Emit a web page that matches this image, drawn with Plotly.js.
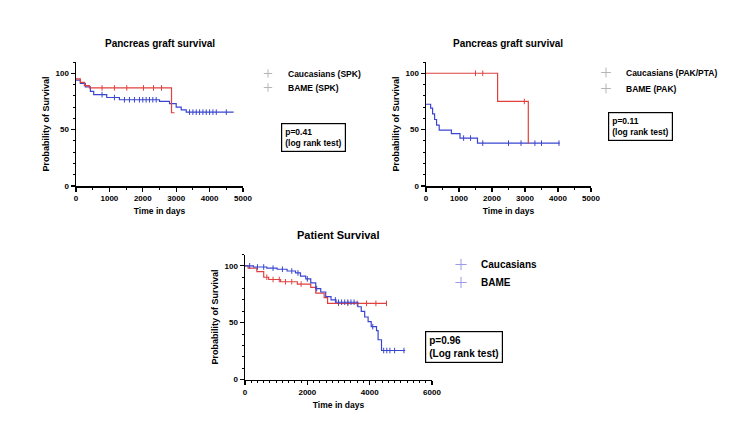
<!DOCTYPE html>
<html>
<head>
<meta charset="utf-8">
<script src="https://cdn.plot.ly/plotly-3.0.1.min.js"></script>
<style>html,body{margin:0;padding:0;background:#fff;}#chart{width:729px;height:422px;}</style>
</head>
<body>
<div id="chart"></div>
<script>
// ---------- data ----------
const titles = ["Pancreas graft survival", "Pancreas graft survival", "Patient Survival"];
const xTitle = "Time in days";
const yTitle = "Probability of Survival";

// Panel 1: SPK pancreas graft survival
const spkCauTime = [0, 130, 280, 430, 530, 920, 1300, 2500, 2800, 3000, 3150, 3300, 4720];
const spkCauSurv = [94, 91, 88, 84, 81, 78.5, 76.5, 75, 73, 70, 67.5, 65.5, 65.5];
const spkCauCens = [780, 1150, 1450, 1600, 1750, 1900, 2000, 2100, 2200, 2300, 2400, 3400, 3500, 3600, 3700, 3800, 3900, 4000, 4100, 4200, 4500];
const spkBameTime = [0, 130, 250, 400, 2860, 2950];
const spkBameSurv = [95, 92, 89, 87, 65, 65];
const spkBameCens = [780, 1150, 1520, 2020, 2320, 2560];
const spkNames = ["Caucasians (SPK)", "BAME (SPK)"];
const spkP = ["p=0.41", "(log rank test)"];

// Panel 2: PAK/PTA pancreas graft survival
const pakCauTime = [0, 140, 200, 260, 320, 400, 770, 1030, 1560, 4050];
const pakCauSurv = [72.5, 69, 64, 59, 54, 49.5, 46.5, 42.5, 38, 38];
const pakCauCens = [1140, 1350, 1720, 2500, 2880, 3300, 3500, 4030];
const pakBameTime = [0, 2170, 3100];
const pakBameSurv = [100, 75, 37.5];
const pakBameCens = [1500, 1720, 2980];
const pakNames = ["Caucasians (PAK/PTA)", "BAME (PAK)"];
const pakP = ["p=0.11", "(log rank test)"];

// Panel 3: patient survival
const patCauTime = [0, 270, 700, 1030, 1350, 1620, 1780, 1950, 2110, 2270, 2430, 2590, 2760, 2920, 3620, 3730, 3840, 3950, 4050, 4220, 4270, 4380, 5140];
const patCauSurv = [100, 99, 98, 97, 95.5, 93.8, 91, 88.5, 85, 80, 77, 73, 70, 68, 64, 60, 55, 51, 46.5, 43, 35, 25.5, 25.5];
const patCauCens = [150, 400, 600, 900, 1200, 1500, 1700, 2000, 2300, 2900, 3000, 3100, 3200, 3300, 3400, 3500, 4100, 4450, 4550, 4650, 4800, 5100];
const patBameTime = [0, 100, 380, 600, 760, 1140, 1680, 2110, 2270, 2540, 2650, 4540];
const patBameSurv = [100, 98, 95, 90, 88, 86, 84, 81, 76, 72, 67, 67];
const patBameCens = [700, 900, 1100, 1300, 1500, 1800, 3000, 3300, 3600, 3900, 4200, 4540];
const patNames = ["Caucasians", "BAME"];
const patP = ["p=0.96", "(Log rank test)"];

// ---------- helpers ----------
const RED = "#e0413f", BLUE = "#3a46cf";
const FONT = "Liberation Sans, Arial, sans-serif";
function stepAt(T, S, t) { let v = S[0]; for (let i = 0; i < T.length; i++) { if (T[i] <= t) v = S[i]; } return v; }
function curve(T, S, color, xa, ya) {
  return { x: T, y: S, type: "scatter", mode: "lines", line: { shape: "hv", color: color, width: 1.2 }, xaxis: xa, yaxis: ya, showlegend: false, hoverinfo: "skip" };
}
function cens(T, S, C, color, xa, ya) {
  return { x: C, y: C.map(t => stepAt(T, S, t)), type: "scatter", mode: "markers", marker: { symbol: "line-ns-open", size: 4, color: color, line: { width: 1, color: color } }, xaxis: xa, yaxis: ya, showlegend: false, hoverinfo: "skip" };
}
function legendEntry(name, color, lg, size) {
  return { x: [null], y: [null], type: "scatter", mode: "markers", name: name, legend: lg,
    marker: { symbol: "cross-thin-open", size: size, color: color, line: { width: 1, color: color } }, xaxis: "x", yaxis: "y" };
}

const traces = [
  curve(spkCauTime, spkCauSurv, BLUE, "x", "y"),
  cens(spkCauTime, spkCauSurv, spkCauCens, BLUE, "x", "y"),
  curve(spkBameTime, spkBameSurv, RED, "x", "y"),
  cens(spkBameTime, spkBameSurv, spkBameCens, RED, "x", "y"),
  curve(pakCauTime, pakCauSurv, BLUE, "x2", "y2"),
  cens(pakCauTime, pakCauSurv, pakCauCens, BLUE, "x2", "y2"),
  curve(pakBameTime, pakBameSurv, RED, "x2", "y2"),
  cens(pakBameTime, pakBameSurv, pakBameCens, RED, "x2", "y2"),
  curve(patBameTime, patBameSurv, RED, "x3", "y3"),
  cens(patBameTime, patBameSurv, patBameCens, RED, "x3", "y3"),
  curve(patCauTime, patCauSurv, BLUE, "x3", "y3"),
  cens(patCauTime, patCauSurv, patCauCens, BLUE, "x3", "y3"),
  legendEntry(spkNames[0], "#b5b5b5", "legend", 6),
  legendEntry(spkNames[1], "#b5b5b5", "legend2", 6),
  legendEntry(pakNames[0], "#b5b5b5", "legend3", 7),
  legendEntry(pakNames[1], "#b5b5b5", "legend4", 7),
  legendEntry(patNames[0], "#9a9ae8", "legend5", 8),
  legendEntry(patNames[1], "#9a9ae8", "legend6", 8)
];

const W = 729, H = 422;
const px = v => v / W, py = v => 1 - v / H;

function xAxis(dom, range, dtick, minor, anchor) {
  return {
    domain: dom, range: range, dtick: dtick, tick0: 0, anchor: anchor,
    showline: true, linecolor: "#000", linewidth: 1.5, mirror: false,
    ticks: "outside", ticklen: 4, tickwidth: 1.2, tickcolor: "#000",
    minor: { dtick: minor, ticks: "outside", ticklen: 2, tickwidth: 1, tickcolor: "#000", showgrid: false },
    showgrid: false, zeroline: false,
    tickfont: { family: FONT, size: 8, color: "#000", weight: "bold" },
    title: { text: xTitle, font: { family: FONT, size: 8.5, color: "#000", weight: "bold" }, standoff: 6 }
  };
}
function yAxis(dom, anchor) {
  return {
    domain: dom, range: [0, 110], tickvals: [0, 50, 100], anchor: anchor,
    showline: true, linecolor: "#000", linewidth: 1.5,
    ticks: "outside", ticklen: 4, tickwidth: 1.2, tickcolor: "#000",
    minor: { dtick: 10, ticks: "outside", ticklen: 2, tickwidth: 1, tickcolor: "#000", showgrid: false },
    showgrid: false, zeroline: false,
    tickfont: { family: FONT, size: 8, color: "#000", weight: "bold" },
    title: { text: yTitle, font: { family: FONT, size: 9, color: "#000", weight: "bold" }, standoff: 4 }
  };
}

const topDom = [py(186), py(62)];
const botDom = [py(379.5), py(254.5)];

function pBox(lines, x, y, size) {
  return { xref: "paper", yref: "paper", x: px(x), y: py(y), xanchor: "left", yanchor: "top", showarrow: false,
    text: lines.join("<br>"), align: "left", bordercolor: "#000", borderwidth: 1.2, borderpad: 3,
    font: { family: FONT, size: size, color: "#000", weight: "bold" } };
}
function titleAnn(text, x, y, size) {
  return { xref: "paper", yref: "paper", x: px(x), y: py(y), xanchor: "center", yanchor: "middle", showarrow: false,
    text: text, font: { family: FONT, size: size, color: "#000", weight: "bold" } };
}
// one legend box per entry; (textX, centerY) is where the entry's text starts / is centred
function legendBox(textX, centerY, size) {
  return { x: px(textX - 39), y: py(centerY - 14), xanchor: "left", yanchor: "top", bgcolor: "rgba(0,0,0,0)", borderwidth: 0,
    font: { family: FONT, size: size, color: "#000", weight: "bold" }, itemwidth: 30, tracegroupgap: 0 };
}

const layout = {
  width: W, height: H,
  margin: { l: 0, r: 0, t: 0, b: 0 },
  paper_bgcolor: "#fff", plot_bgcolor: "#fff",
  font: { family: FONT, color: "#000" },
  xaxis: xAxis([px(76), px(243)], [0, 5000], 1000, 500, "y"),
  yaxis: yAxis(topDom, "x"),
  xaxis2: xAxis([px(426), px(591)], [0, 5000], 1000, 500, "y2"),
  yaxis2: yAxis(topDom, "x2"),
  xaxis3: xAxis([px(245), px(432)], [0, 6000], 2000, 200, "y3"),
  yaxis3: yAxis(botDom, "x3"),
  legend: legendBox(287, 73, 8.5),
  legend2: legendBox(287, 87, 8.5),
  legend3: legendBox(625, 72, 8.5),
  legend4: legendBox(625, 88, 8.5),
  legend5: legendBox(480, 264, 10),
  legend6: legendBox(480, 282, 10),
  annotations: [
    titleAnn(titles[0], 160, 43, 10),
    titleAnn(titles[1], 508, 43, 10),
    titleAnn(titles[2], 338, 235, 11),
    pBox(spkP, 281, 123, 8.5),
    pBox(pakP, 608, 112, 8.5),
    pBox(patP, 425, 331, 10)
  ]
};

Plotly.newPlot("chart", traces, layout, { displayModeBar: false, staticPlot: true });
</script>
</body>
</html>
